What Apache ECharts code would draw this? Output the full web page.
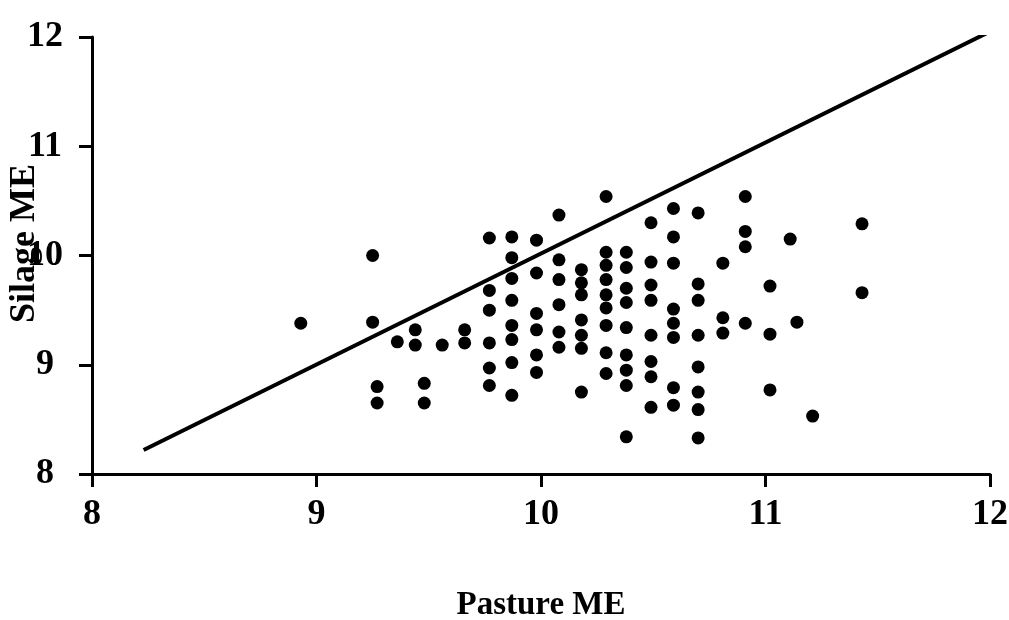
<!DOCTYPE html>
<html>
<head>
<meta charset="utf-8">
<script src="https://cdn.jsdelivr.net/npm/echarts@6/dist/echarts.min.js"></script>
<style>
html,body{margin:0;padding:0;background:#fff;}
#chart{width:1009px;height:620px;}
</style>
</head>
<body>
<div id="chart"></div>
<script>
// Pasture ME (x) and Silage ME (y) pairs
const pastureME = [
  8.93,
  9.25, 9.25,
  9.27, 9.27,
  9.36,
  9.44, 9.44,
  9.48, 9.48,
  9.56,
  9.66, 9.66,
  9.77, 9.77, 9.77, 9.77, 9.77, 9.77,
  9.87, 9.87, 9.87, 9.87, 9.87, 9.87, 9.87, 9.87,
  9.98, 9.98, 9.98, 9.98, 9.98, 9.98,
  10.08, 10.08, 10.08, 10.08, 10.08, 10.08,
  10.18, 10.18, 10.18, 10.18, 10.18, 10.18, 10.18,
  10.29, 10.29, 10.29, 10.29, 10.29, 10.29, 10.29, 10.29, 10.29,
  10.38, 10.38, 10.38, 10.38, 10.38, 10.38, 10.38, 10.38, 10.38,
  10.49, 10.49, 10.49, 10.49, 10.49, 10.49, 10.49, 10.49,
  10.59, 10.59, 10.59, 10.59, 10.59, 10.59, 10.59, 10.59,
  10.70, 10.70, 10.70, 10.70, 10.70, 10.70, 10.70, 10.70,
  10.81, 10.81, 10.81,
  10.91, 10.91, 10.91, 10.91,
  11.02, 11.02, 11.02,
  11.11,
  11.14,
  11.21,
  11.43, 11.43
];
const silageME = [
  9.38,
  10.00, 9.39,
  8.80, 8.65,
  9.21,
  9.32, 9.18,
  8.83, 8.65,
  9.18,
  9.32, 9.20,
  10.16, 9.68, 9.50, 9.20, 8.97, 8.81,
  10.17, 9.98, 9.79, 9.59, 9.36, 9.23, 9.02, 8.72,
  10.14, 9.84, 9.47, 9.32, 9.09, 8.93,
  10.37, 9.96, 9.78, 9.55, 9.30, 9.16,
  9.87, 9.75, 9.64, 9.41, 9.27, 9.15, 8.75,
  10.54, 10.03, 9.91, 9.78, 9.64, 9.52, 9.36, 9.11, 8.92,
  10.03, 9.89, 9.70, 9.57, 9.34, 9.09, 8.95, 8.81, 8.34,
  10.30, 9.94, 9.73, 9.59, 9.27, 9.03, 8.89, 8.61,
  10.43, 10.17, 9.93, 9.51, 9.38, 9.25, 8.79, 8.63,
  10.39, 9.74, 9.59, 9.27, 8.98, 8.75, 8.59, 8.33,
  9.93, 9.43, 9.29,
  10.54, 10.22, 10.08, 9.38,
  9.72, 9.28, 8.77,
  10.15,
  9.39,
  8.53,
  10.29, 9.66
];
// Reference (fitted) line end points
const lineX = [8.23, 12.0];
const lineY = [8.22, 12.05];
// Axis ticks
const xTicks = [8, 9, 10, 11, 12];
const yTicks = [8, 9, 10, 11, 12];

const points = pastureME.map((x, i) => [x, silageME[i]]);
const linePts = lineX.map((x, i) => [x, lineY[i]]);

const font = '"Liberation Serif", "Times New Roman", serif';
const chart = echarts.init(document.getElementById('chart'), null, {renderer: 'canvas'});
chart.setOption({
  animation: false,
  backgroundColor: '#ffffff',
  grid: {left: 92, right: 19, top: 37, bottom: 146, containLabel: false, outerBoundsMode: 'none'},
  xAxis: {
    type: 'value',
    min: xTicks[0], max: xTicks[xTicks.length - 1], interval: 1,
    name: 'Pasture ME',
    nameLocation: 'middle',
    nameGap: 131,
    nameMoveOverlap: false,
    nameTextStyle: {fontFamily: font, fontWeight: 'bold', fontSize: 33, color: '#000', verticalAlign: 'middle'},
    axisLine: {show: true, onZero: false, lineStyle: {color: '#000', width: 3}},
    axisTick: {show: true, length: 13, lineStyle: {color: '#000', width: 3}},
    axisLabel: {margin: 23, fontFamily: font, fontWeight: 'bold', fontSize: 36, color: '#000'},
    splitLine: {show: false}
  },
  yAxis: {
    type: 'value',
    min: yTicks[0], max: yTicks[yTicks.length - 1], interval: 1,
    name: 'Silage ME',
    nameLocation: 'middle',
    nameGap: 67,
    nameRotate: 90,
    nameMoveOverlap: false,
    nameTextStyle: {fontFamily: font, fontWeight: 'bold', fontSize: 36, color: '#000', verticalAlign: 'middle', padding: [0, 0, 0, 24]},
    axisLine: {show: true, onZero: false, lineStyle: {color: '#000', width: 3}},
    axisTick: {show: true, length: 13, lineStyle: {color: '#000', width: 3}},
    axisLabel: {margin: 47, align: 'center', fontFamily: font, fontWeight: 'bold', fontSize: 36, color: '#000'},
    splitLine: {show: false}
  },
  series: [
    {
      type: 'line',
      data: linePts,
      symbol: 'none',
      lineStyle: {color: '#000', width: 4},
      z: 3
    },
    {
      type: 'scatter',
      data: points,
      symbol: 'circle',
      symbolSize: 13,
      itemStyle: {color: '#000', opacity: 1},
      z: 4
    }
  ]
});
</script>
</body>
</html>
